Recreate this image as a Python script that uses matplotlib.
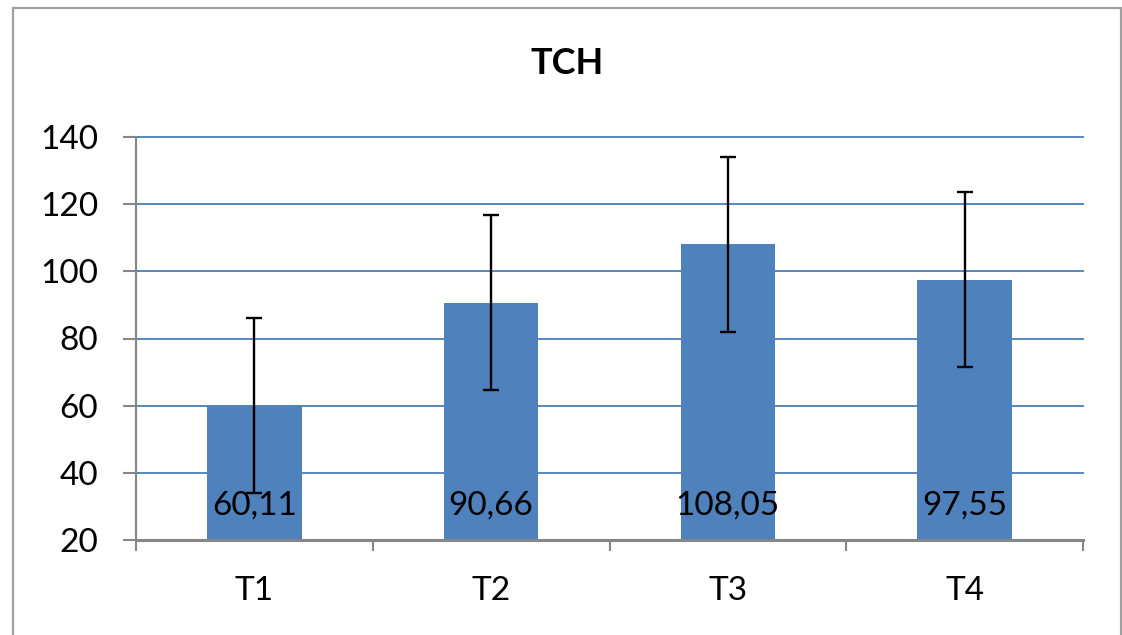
import matplotlib
matplotlib.use("Agg")
import matplotlib.pyplot as plt
from matplotlib.patches import Rectangle
from matplotlib.ticker import FixedLocator

plt.rcParams['font.family'] = ['Lato', 'DejaVu Sans']

categories = ["T1", "T2", "T3", "T4"]
values = [60.11, 90.66, 108.05, 97.55]
errors = [26, 26, 26, 26]
value_labels = ["60,11", "90,66", "108,05", "97,55"]
y_ticks = [20, 40, 60, 80, 100, 120, 140]

W, H = 1122, 635
fig = plt.figure(figsize=(W / 100, H / 100), dpi=100)

# outer chart frame
fig.patches.append(Rectangle((13 / W, -0.05), (1121 - 13) / W, 1.05 - 8 / H,
                             transform=fig.transFigure, fill=False,
                             edgecolor="#A0A0A0", linewidth=1.6, zorder=0))

ax = fig.add_axes([136 / W, 1 - 540 / H, (1083 - 136) / W, (540 - 137) / H])

x = list(range(len(categories)))
ax.bar(x, values, width=0.40, color="#4F81BD", zorder=2)
ax.errorbar(x, values, yerr=errors, fmt="none", ecolor="black",
            elinewidth=1.7, capsize=6, capthick=1.7, zorder=3)

ax.set_ylim(20, 140)
ax.set_xlim(-0.5, len(categories) - 0.5)
ax.set_yticks(y_ticks)
ax.set_xticks(x)
ax.set_xticklabels(categories)
ax.xaxis.set_minor_locator(FixedLocator([i - 0.5 for i in range(len(categories) + 1)]))

for g in y_ticks[1:]:
    ax.axhline(g, color="#4A7EBB", linewidth=1.3, zorder=1, clip_on=False)

for s in ["top", "right"]:
    ax.spines[s].set_visible(False)
ax.spines["left"].set_color("#868686")
ax.spines["left"].set_linewidth(1.5)
ax.spines["bottom"].set_color("#868686")
ax.spines["bottom"].set_linewidth(2.2)

ax.tick_params(axis="y", length=9.4, width=1.5, color="#868686",
               labelsize=24, pad=18)
ax.tick_params(axis="x", which="major", length=0, labelsize=24, pad=26)
ax.tick_params(axis="x", which="minor", length=8, width=1.5, color="#868686")

for xi, v, lab in zip(x, values, value_labels):
    ax.annotate(lab, xy=(xi, 20), xytext=(0, 18), textcoords="offset points",
                ha="center", va="baseline", fontsize=24, color="black", zorder=4)

fig.text(567 / W, 1 - 64 / H, "TCH", ha="center", va="center",
         fontsize=26, fontweight="bold")

fig.savefig("out.png", dpi=100)
